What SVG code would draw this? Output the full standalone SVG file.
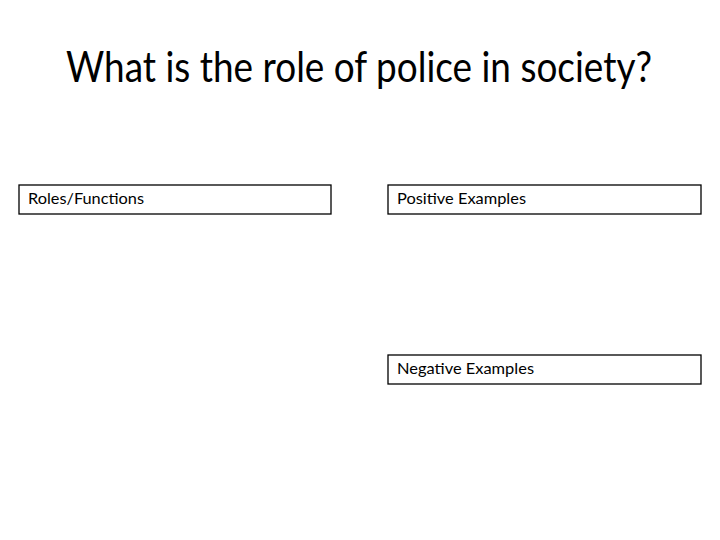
<svg xmlns="http://www.w3.org/2000/svg" width="720" height="540" viewBox="0 0 720 540">
<style>
.box{fill:#fff;stroke:#000;stroke-width:1.3}
.lbl{font-family:"Lato","Liberation Sans",sans-serif;font-size:15px;fill:#000}
.title{font-family:"Lato","Open Sans","Liberation Sans",sans-serif;font-size:42px;fill:#000}
</style>
<rect width="720" height="540" fill="#fff"/>
<text class="title" x="66" y="82" textLength="586" lengthAdjust="spacingAndGlyphs">What is the role of police in society?</text>
<g id="roles">
<rect class="box" x="19" y="185" width="312" height="29"/>
<text class="lbl" x="28" y="204" textLength="116" lengthAdjust="spacingAndGlyphs">Roles/Functions</text>
</g>
<g id="positive">
<rect class="box" x="388" y="185" width="313" height="29"/>
<text class="lbl" x="397" y="204" textLength="129" lengthAdjust="spacingAndGlyphs">Positive Examples</text>
</g>
<g id="negative">
<rect class="box" x="388" y="355" width="313" height="29"/>
<text class="lbl" x="397" y="374" textLength="137" lengthAdjust="spacingAndGlyphs">Negative Examples</text>
</g>
<g id="connectors"></g>
</svg>
